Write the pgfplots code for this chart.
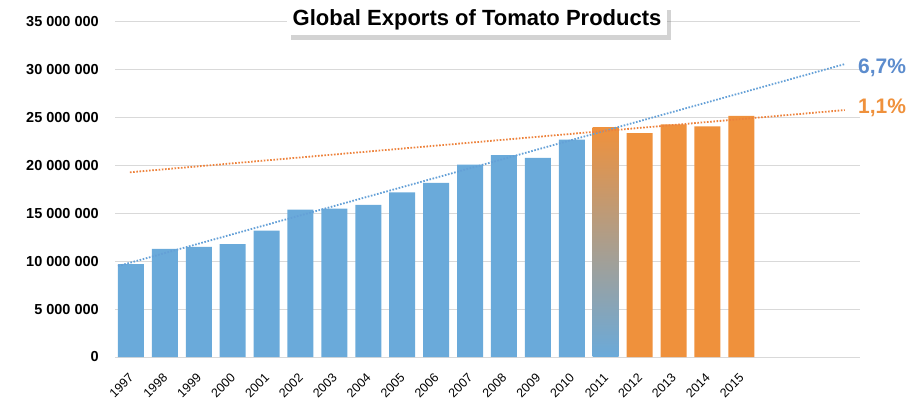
\documentclass[border=0pt]{standalone}
\usepackage{pgfplots}
\pgfplotsset{compat=1.18}
\usepackage{fontspec}
\setmainfont{Liberation Sans}
\usetikzlibrary{shadows}
\definecolor{barblue}{RGB}{106,170,218}
\definecolor{barorange}{RGB}{239,145,60}
\definecolor{trendblue}{RGB}{100,160,215}
\definecolor{trendorange}{RGB}{237,130,60}
\definecolor{labelblue}{RGB}{92,140,205}
\definecolor{gridgray}{RGB}{217,217,217}
\begin{document}
\begin{tikzpicture}
\path[use as bounding box] (0,0) rectangle (912bp,401bp);
\begin{axis}[
  at={(115bp,44bp)}, anchor=south west,
  scale only axis, width=745bp, height=335bp,
  xmin=-0.47, xmax=21.5, ymin=0, ymax=35000000,
  scaled y ticks=false,
  axis line style={draw=none},
  major tick length=0pt,
  ymajorgrids, grid style={gridgray, line width=1bp},
  ytick={0,5000000,10000000,15000000,20000000,25000000,30000000,35000000},
  yticklabels={0,5 000 000,10 000 000,15 000 000,20 000 000,25 000 000,30 000 000,35 000 000},
  yticklabel style={font=\bfseries\fontsize{14.5bp}{16bp}\selectfont, inner sep=0pt, xshift=-16bp},
  xtick={0,...,18},
  xticklabels={1997,1998,1999,2000,2001,2002,2003,2004,2005,2006,2007,2008,2009,2010,2011,2012,2013,2014,2015},
  xticklabel style={font=\fontsize{12.5bp}{14bp}\selectfont, rotate=45, anchor=north east, inner sep=0pt, xshift=-13bp, yshift=-9bp},
  clip=false,
]
\addplot[ybar, bar shift=0pt, bar width=26bp, fill=barblue, draw=none] coordinates {
  (0,9.7e6) (1,11.3e6) (2,11.5e6) (3,11.8e6) (4,13.2e6) (5,15.4e6) (6,15.5e6)
  (7,15.9e6) (8,17.2e6) (9,18.2e6) (10,20.1e6) (11,21.1e6) (12,20.8e6) (13,22.7e6)
};
\addplot[ybar, bar shift=0pt, bar width=26bp, draw=none, top color=barorange, bottom color=barblue] coordinates {
  (14,24.0e6)
};
\addplot[ybar, bar shift=0pt, bar width=26bp, fill=barorange, draw=none] coordinates {
  (15,23.4e6) (16,24.3e6) (17,24.1e6) (18,25.2e6)
};
\addplot[trendblue, line width=1.8bp, dash pattern=on 1.6bp off 1.6bp] coordinates {
  (-0.38,9.5e6) (21.05,30.6e6)
};
\addplot[trendorange, line width=1.8bp, dash pattern=on 1.6bp off 1.6bp] coordinates {
  (-0.03,19.3e6) (21.05,25.8e6)
};
\end{axis}
\node[fill=white, drop shadow={shadow xshift=4bp, shadow yshift=-5bp, opacity=0.35},
      font=\bfseries\fontsize{22bp}{24bp}\selectfont, inner xsep=6bp, inner ysep=5bp]
      at (477bp,381bp) {Global Exports of Tomato Products};
\node[font=\bfseries\fontsize{21bp}{24bp}\selectfont, text=labelblue] at (882bp,333bp) {6,7\%};
\node[font=\bfseries\fontsize{21bp}{24bp}\selectfont, text=barorange] at (882bp,293bp) {1,1\%};
\end{tikzpicture}
\end{document}
